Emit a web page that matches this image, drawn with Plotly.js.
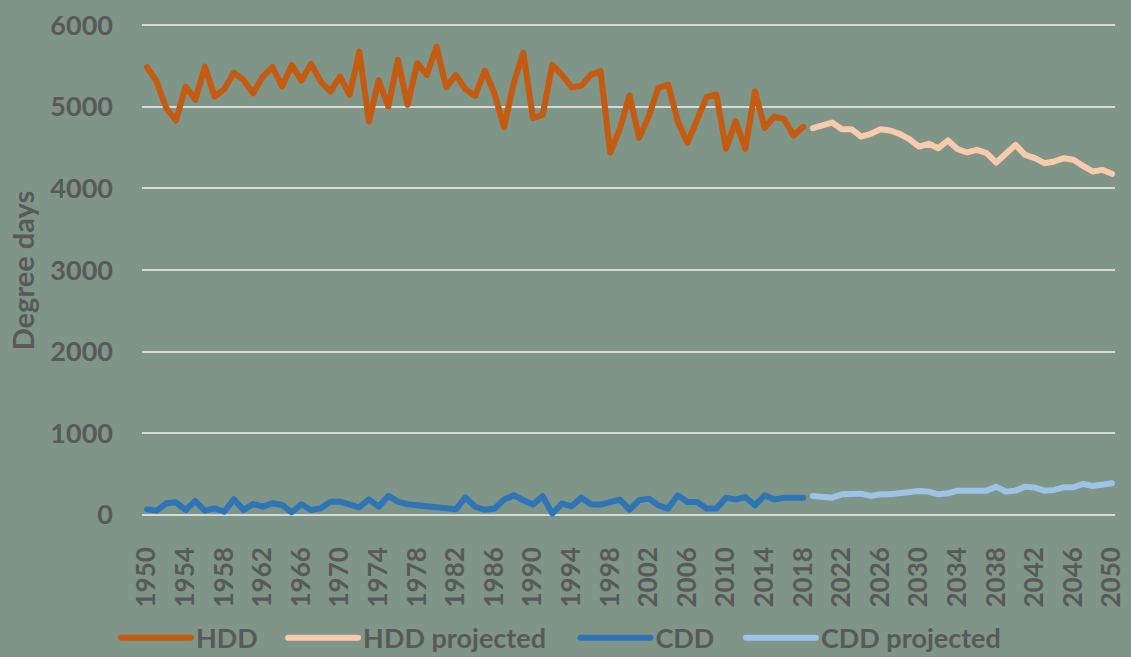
<!DOCTYPE html>
<html>
<head>
<meta charset="utf-8">
<script src="https://cdn.plot.ly/plotly-3.0.1.min.js"></script>
<style>
  html, body { margin: 0; padding: 0; background: #7E9587; }
  #plot { width: 1131px; height: 657px; }
  path.js-line { stroke-linejoin: round !important; stroke-linecap: round !important; }
  .legendlines path { stroke-linecap: round !important; }
</style>
</head>
<body>
<div id="plot"></div>
<script>
// Years (categories)
let histYears = []
let projYears = []
for (let y = 1950; y <= 2018; y++) histYears.push(y)
for (let y = 2019; y <= 2050; y++) projYears.push(y)

// Heating degree days, 1950-2018
let hdd = [5485, 5310, 4984, 4833, 5249, 5086, 5494, 5126, 5216, 5420,
    5330, 5167, 5371, 5485, 5249, 5514, 5322, 5526, 5310, 5188,
    5371, 5147, 5677, 4820, 5326, 5004, 5575, 5024, 5534, 5392,
    5738, 5241, 5392, 5216, 5135, 5445, 5167, 4751, 5290, 5665,
    4861, 4902, 5514, 5392, 5241, 5257, 5392, 5440, 4440, 4730,
    5139, 4620, 4886, 5233, 5273, 4824, 4559, 4865, 5122, 5151,
    4486, 4824, 4486, 5192, 4743, 4878, 4853, 4649, 4755]

// Heating degree days projected, 2019-2050
let hddProjected = [4739, 4767, 4808, 4726, 4726, 4636, 4669, 4726, 4710, 4669,
    4604, 4514, 4547, 4494, 4588, 4481, 4441, 4473, 4433, 4318,
    4433, 4534, 4412, 4371, 4310, 4330, 4371, 4351, 4277, 4208,
    4228, 4180]

// Cooling degree days, 1950-2018
let cdd = [69, 53, 143, 155, 61, 171, 53, 82, 41, 192,
    61, 135, 102, 143, 122, 33, 131, 61, 82, 163,
    163, 131, 94, 192, 102, 233, 163, 131, 122, 102,
    102, 94, 69, 216, 100, 65, 78, 188, 241, 180,
    127, 229, 16, 139, 106, 212, 131, 127, 159, 188,
    65, 180, 200, 118, 78, 241, 159, 159, 78, 78,
    212, 188, 220, 118, 241, 188, 212, 212, 212]

// Cooling degree days projected, 2019-2050
let cddProjected = [233, 224, 212, 253, 261, 261, 233, 253, 253, 265,
    273, 294, 286, 253, 265, 298, 298, 298, 298, 347,
    286, 298, 347, 335, 298, 306, 339, 339, 380, 355,
    367, 388]

// Tick labels every 4 years
let tickYears = []
for (let y = 1950; y <= 2050; y += 4) tickYears.push(y)
let tickLabels = tickYears.map(String)

let textColor = '#595959'
let fontFamily = 'Lato, "Open Sans", sans-serif'

let hddTrace = {
    x: histYears, y: hdd, type: 'scatter', mode: 'lines', name: 'HDD',
    legend: 'legend',
    line: {color: '#C55A11', width: 6}
}
let hddProjTrace = {
    x: projYears, y: hddProjected, type: 'scatter', mode: 'lines', name: 'HDD projected',
    legend: 'legend2',
    line: {color: '#F8CBAD', width: 6}
}
let cddTrace = {
    x: histYears, y: cdd, type: 'scatter', mode: 'lines', name: 'CDD',
    legend: 'legend3',
    line: {color: '#2E75B6', width: 6}
}
let cddProjTrace = {
    x: projYears, y: cddProjected, type: 'scatter', mode: 'lines', name: 'CDD projected',
    legend: 'legend4',
    line: {color: '#9DC3E6', width: 6}
}

// one legend box per entry so each sits where the original puts it
function legendAt(xPos) {
    return {
        orientation: 'h',
        x: xPos, xanchor: 'left',
        y: -0.196, yanchor: 'top',
        font: {family: fontFamily, size: 27, color: textColor, weight: 'bold'},
        itemwidth: 70,
        bgcolor: 'rgba(0,0,0,0)'
    }
}

let layout = {
    width: 1131,
    height: 657,
    paper_bgcolor: '#7E9587',
    plot_bgcolor: '#7E9587',
    margin: {l: 142, r: 16, t: 24, b: 140, autoexpand: false},
    font: {family: fontFamily, color: textColor, size: 24},
    showlegend: true,
    legend: legendAt(-0.0267),
    legend2: legendAt(0.145),
    legend3: legendAt(0.4455),
    legend4: legendAt(0.6155),
    xaxis: {
        range: [1949.48, 2050.31],
        tickvals: tickYears,
        ticktext: tickLabels,
        tickangle: -90,
        ticks: '',
        showgrid: false,
        zeroline: false,
        showline: false,
        automargin: false,
        ticklabelstandoff: 24,
        tickfont: {family: fontFamily, size: 26, color: textColor, weight: 'bold'}
    },
    yaxis: {
        range: [-25, 6015],
        tickvals: [0, 1000, 2000, 3000, 4000, 5000, 6000],
        ticks: '',
        showgrid: true,
        gridcolor: '#D9D9D9',
        gridwidth: 2,
        zeroline: false,
        showline: false,
        automargin: false,
        ticklabelstandoff: 28,
        tickfont: {family: fontFamily, size: 27, color: textColor, weight: 'bold'},
        title: {
            text: 'Degree days',
            standoff: 7,
            font: {family: fontFamily, size: 29, color: textColor, weight: 'bold'}
        }
    }
}

let traceData = [hddTrace, hddProjTrace, cddTrace, cddProjTrace]

Plotly.newPlot('plot', traceData, layout, {displayModeBar: false, staticPlot: true})
</script>
</body>
</html>
